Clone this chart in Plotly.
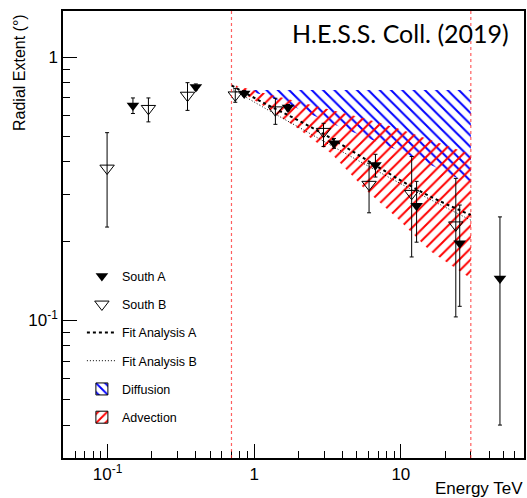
import plotly.graph_objects as go

# ---- measured points: radial extent vs energy ----
south_a_e = [0.149, 0.40, 0.855, 1.70, 3.50, 6.71, 12.8, 25.2, 47.4]
south_a_r = [0.655, 0.769, 0.726, 0.643, 0.470, 0.389, 0.272, 0.196, 0.144]
south_a_up = [0.699, 0.79, 0.745, 0.66, 0.49, 0.427, 0.337, 0.274, 0.247]
south_a_lo = [0.61, 0.75, 0.71, 0.625, 0.45, 0.35, 0.198, 0.113, 0.040]

south_b_e = [0.0993, 0.19, 0.351, 0.743, 1.395, 2.97, 6.07, 11.85, 23.7]
south_b_r = [0.378, 0.637, 0.715, 0.717, 0.629, 0.521, 0.328, 0.303, 0.230]
south_b_up = [0.516, 0.699, 0.799, 0.76, 0.697, 0.56, 0.395, 0.419, 0.346]
south_b_lo = [0.226, 0.567, 0.627, 0.673, 0.555, 0.457, 0.256, 0.174, 0.103]

# ---- fit curves ----
fit_a_e = [0.70, 1.175, 1.98, 3.34, 5.61, 9.46, 15.9, 30.0]
fit_a_r = [0.78, 0.667, 0.576, 0.491, 0.412, 0.346, 0.295, 0.251]
fit_b_e = [0.72, 1.37, 2.19, 3.5, 6.0, 10.0, 16.0, 30.0]
fit_b_r = [0.75, 0.61, 0.527, 0.455, 0.385, 0.33, 0.287, 0.24]

# ---- model bands ----
diff_top_e = [0.8, 30.0]
diff_top_r = [0.75, 0.75]
diff_low_e = [0.8, 1.175, 1.98, 3.34, 5.61, 9.46, 15.9, 30.0]
diff_low_r = [0.75, 0.717, 0.638, 0.56, 0.498, 0.443, 0.39, 0.327]

adv_top_e = [0.75, 1.175, 1.98, 3.34, 5.61, 9.46, 15.9, 30.0]
adv_top_r = [0.78, 0.728, 0.677, 0.629, 0.585, 0.536, 0.484, 0.427]
adv_low_e = [0.75, 1.175, 1.98, 3.34, 5.61, 9.46, 15.9, 30.0]
adv_low_r = [0.76, 0.648, 0.536, 0.431, 0.317, 0.244, 0.183, 0.144]

# energy window limits
e_limits = [0.7, 30.0]

x_ticks = [0.1, 1, 10]
x_ticktext = ["10<sup>-1</sup>", "1", "10"]
y_ticks = [0.1, 1]
y_ticktext = ["10<sup>-1</sup>", "1"]

FONT = "Liberation Sans, Arial, sans-serif"


def errs(v, up, lo):
    return [u - c for u, c in zip(up, v)], [c - l for c, l in zip(v, lo)]


def hatch(shape, color, solidity=0.25):
    return dict(shape=shape, fgcolor=color, fgopacity=1,
                bgcolor="rgba(0,0,0,0)", size=8, solidity=solidity)


fig = go.Figure()

# hatched bands
fig.add_trace(go.Scatter(
    x=diff_top_e + diff_low_e[::-1], y=diff_top_r + diff_low_r[::-1],
    fill="toself", mode="lines", line=dict(width=0, color="blue"),
    fillcolor="rgba(0,0,0,0)", fillpattern=hatch("\\", "blue"),
    showlegend=False, hoverinfo="skip"))
fig.add_trace(go.Scatter(
    x=adv_top_e + adv_low_e[::-1], y=adv_top_r + adv_low_r[::-1],
    fill="toself", mode="lines", line=dict(width=0, color="red"),
    fillcolor="rgba(0,0,0,0)", fillpattern=hatch("/", "red"),
    showlegend=False, hoverinfo="skip"))

# legend swatches for the bands (boxed hatch)
fig.add_trace(go.Bar(
    x=[None], y=[None], name="Diffusion", legendgroup="d", legendrank=5,
    marker=dict(color="white", pattern=hatch("\\", "blue", 0.3),
                line=dict(color="black", width=1))))
fig.add_trace(go.Bar(
    x=[None], y=[None], name="Advection", legendgroup="a", legendrank=6,
    marker=dict(color="white", pattern=hatch("/", "red", 0.3),
                line=dict(color="black", width=1))))

# fits
fig.add_trace(go.Scatter(
    x=fit_a_e, y=fit_a_r, mode="lines", line_shape="spline",
    line=dict(color="black", width=2, dash="3px,3px"),
    name="Fit Analysis A", legendgroup="fa", legendrank=3))
fig.add_trace(go.Scatter(
    x=fit_b_e, y=fit_b_r, mode="lines", line_shape="spline",
    line=dict(color="black", width=1, dash="1px,2px"),
    name="Fit Analysis B", legendgroup="fb", legendrank=4))

# data points
ea_up, ea_lo = errs(south_a_r, south_a_up, south_a_lo)
fig.add_trace(go.Scatter(
    x=south_a_e, y=south_a_r, mode="markers",
    marker=dict(symbol="triangle-down", size=11, color="black"),
    error_y=dict(type="data", array=ea_up, arrayminus=ea_lo,
                 color="black", thickness=1, width=2),
    name="South A", legendgroup="sa", legendrank=1))
eb_up, eb_lo = errs(south_b_r, south_b_up, south_b_lo)
fig.add_trace(go.Scatter(
    x=south_b_e, y=south_b_r, mode="markers",
    marker=dict(symbol="triangle-down-open", size=12.5, color="black",
                line=dict(width=1, color="black")),
    error_y=dict(type="data", array=eb_up, arrayminus=eb_lo,
                 color="black", thickness=1, width=2),
    name="South B", legendgroup="sb", legendrank=2))

for e in e_limits:
    fig.add_shape(type="line", xref="x", yref="paper", x0=e, x1=e, y0=0, y1=1,
                  line=dict(color="#ff2a2a", width=1.2, dash="dot"), opacity=0.75)

axis_font = dict(family=FONT, size=17, color="black")

fig.update_xaxes(
    type="log", range=[-1.3037, 1.8397],
    tickvals=x_ticks, ticktext=x_ticktext, tickfont=axis_font,
    ticks="inside", ticklen=14, tickwidth=1, tickcolor="black",
    minor=dict(ticks="inside", ticklen=7, tickwidth=1, tickcolor="black",
               tickvals=[0.06, 0.07, 0.08, 0.09, 0.2, 0.3, 0.4, 0.5, 0.6, 0.7,
                         0.8, 0.9, 2, 3, 4, 5, 6, 7, 8, 9, 20, 30, 40, 50, 60]),
    showline=True, linecolor="black", linewidth=1.5, mirror=True,
    showgrid=False, zeroline=False)
fig.update_yaxes(
    type="log", range=[-1.523, 0.1747],
    tickvals=y_ticks, ticktext=y_ticktext, tickfont=axis_font,
    ticks="inside", ticklen=14, tickwidth=1, tickcolor="black",
    minor=dict(ticks="inside", ticklen=7, tickwidth=1, tickcolor="black",
               tickvals=[0.04, 0.05, 0.06, 0.07, 0.08, 0.09, 0.2, 0.3, 0.4,
                         0.5, 0.6, 0.7, 0.8, 0.9]),
    showline=True, linecolor="black", linewidth=1.5, mirror=True,
    showgrid=False, zeroline=False)

fig.add_annotation(xref="paper", yref="paper", x=-0.0929, y=0.997,
                   xanchor="center", yanchor="top", textangle=-90,
                   text="Radial Extent (°)", showarrow=False,
                   font=dict(family=FONT, size=16, color="black"))
fig.add_annotation(xref="paper", yref="paper", x=1.0028, y=-0.0678,
                   xanchor="right", yanchor="middle",
                   text="Energy TeV", showarrow=False,
                   font=dict(family=FONT, size=17, color="black"))
fig.add_annotation(xref="paper", yref="paper", x=0.972, y=0.95,
                   xanchor="right", yanchor="middle",
                   text="H.E.S.S. Coll. (2019)", showarrow=False,
                   font=dict(family="Lato, sans-serif", size=25, color="black"))

fig.update_layout(
    width=527, height=498,
    margin=dict(l=63, r=1.3, t=10.7, b=40.3),
    paper_bgcolor="white", plot_bgcolor="white",
    showlegend=True,
    legend=dict(x=0.041, y=0.44, xanchor="left", yanchor="top",
                bgcolor="rgba(0,0,0,0)", borderwidth=0,
                font=dict(family=FONT, size=12.5, color="black"),
                tracegroupgap=9, itemwidth=30),
)

fig.write_html("out.html")
